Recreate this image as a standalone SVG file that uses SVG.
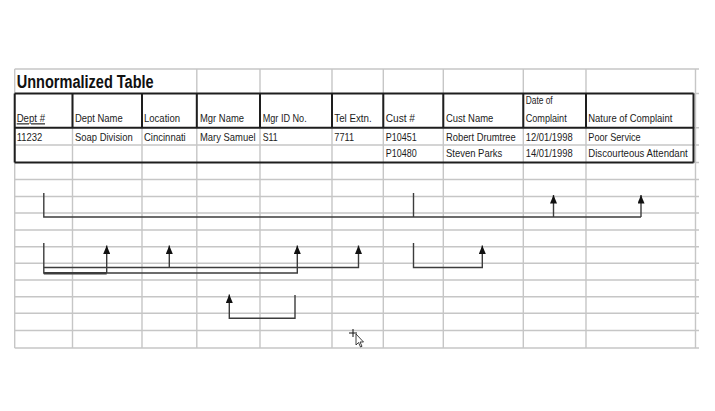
<svg xmlns="http://www.w3.org/2000/svg" width="715" height="411" viewBox="0 0 715 411">
<style>
  .grid { stroke: #c6c6c6; stroke-width: 1.4; fill: none; }
  .thick { stroke: #1e1e1e; stroke-width: 2; fill: none; }
  .t { font-family: "Liberation Sans", Arial, sans-serif; font-size: 11.5px; fill: #1c1c1c; }
  .title { font-family: "Liberation Sans", Arial, sans-serif; font-size: 18px; font-weight: bold; fill: #111; }
  .conn { stroke: #3c3c3c; stroke-width: 1.4; fill: none; }
  .arr { marker-end: url(#ah); }
</style>
<defs>
  <marker id="ah" markerUnits="userSpaceOnUse" markerWidth="9" markerHeight="7" refX="8.5" refY="3.5" orient="auto">
    <path d="M0,0 L8.5,3.5 L0,7 z" fill="#111"/>
  </marker>
</defs>
<rect width="715" height="411" fill="#ffffff"/>

<g id="grid">
  <path class="grid" d="M14.7,69 H699 M14.7,145 H699 M14.7,179.5 H699 M14.7,196.5 H699 M14.7,213 H699 M14.7,230 H699 M14.7,246.7 H699 M14.7,263.3 H699 M14.7,280 H699 M14.7,296.7 H699 M14.7,313.3 H699 M14.7,330.5 H699 M14.7,348 H699 M693,93.5 H699 M693,127.7 H699 M693,162.5 H699"/>
  <path class="grid" d="M14.7,69 V348 M72.5,93.5 V348 M142,93.5 V348 M196.8,69 V348 M260,69 V348 M332,69 V348 M383.3,69 V348 M443.3,69 V348 M523.3,69 V348 M586,69 V348 M695.5,69 V348"/>
</g>

<g id="table-borders">
  <path class="thick" d="M14.7,93.5 H693.5 M14.7,127.7 H693.5 M14.7,162.5 H693.5 M14.7,93.5 V162.5 M693.5,93.5 V162.5"/>
  <path class="thick" d="M72.5,93.5 V127.7 M142,93.5 V127.7 M196.8,93.5 V127.7 M260,93.5 V127.7 M332,93.5 V127.7 M383.3,93.5 V127.7 M443.3,93.5 V127.7 M523.3,93.5 V127.7 M586,93.5 V127.7"/>
</g>

<g id="title">
  <text class="title" x="16.7" y="88.3" textLength="137" lengthAdjust="spacingAndGlyphs">Unnormalized Table</text>
</g>

<g id="col-dept-no">
  <text class="t" x="16.7" y="122.3" textLength="28.3" lengthAdjust="spacingAndGlyphs" text-decoration="underline">Dept #</text>
  <text class="t" x="16.7" y="141.3" textLength="25.6" lengthAdjust="spacingAndGlyphs">11232</text>
</g>
<g id="col-dept-name">
  <text class="t" x="75" y="122.3" textLength="47.7" lengthAdjust="spacingAndGlyphs">Dept Name</text>
  <text class="t" x="75" y="141.3" textLength="57.7" lengthAdjust="spacingAndGlyphs">Soap Division</text>
</g>
<g id="col-location">
  <text class="t" x="144" y="122.3" textLength="36" lengthAdjust="spacingAndGlyphs">Location</text>
  <text class="t" x="144" y="141.3" textLength="41.7" lengthAdjust="spacingAndGlyphs">Cincinnati</text>
</g>
<g id="col-mgr-name">
  <text class="t" x="200" y="122.3" textLength="44" lengthAdjust="spacingAndGlyphs">Mgr Name</text>
  <text class="t" x="200" y="141.3" textLength="55.5" lengthAdjust="spacingAndGlyphs">Mary Samuel</text>
</g>
<g id="col-mgr-id">
  <text class="t" x="262.7" y="122.3" textLength="44" lengthAdjust="spacingAndGlyphs">Mgr ID No.</text>
  <text class="t" x="262.7" y="141.3" textLength="15" lengthAdjust="spacingAndGlyphs">S11</text>
</g>
<g id="col-tel">
  <text class="t" x="334.3" y="122.3" textLength="37.4" lengthAdjust="spacingAndGlyphs">Tel Extn.</text>
  <text class="t" x="334.3" y="141.3" textLength="19.7" lengthAdjust="spacingAndGlyphs">7711</text>
</g>
<g id="col-cust-no">
  <text class="t" x="385.7" y="122.3" textLength="29.3" lengthAdjust="spacingAndGlyphs">Cust #</text>
  <text class="t" x="385.7" y="141.3" textLength="31" lengthAdjust="spacingAndGlyphs">P10451</text>
  <text class="t" x="385.7" y="157.3" textLength="31" lengthAdjust="spacingAndGlyphs">P10480</text>
</g>
<g id="col-cust-name">
  <text class="t" x="446" y="122.3" textLength="47.3" lengthAdjust="spacingAndGlyphs">Cust Name</text>
  <text class="t" x="446" y="141.3" textLength="69.7" lengthAdjust="spacingAndGlyphs">Robert Drumtree</text>
  <text class="t" x="446" y="157.3" textLength="56.3" lengthAdjust="spacingAndGlyphs">Steven Parks</text>
</g>
<g id="col-date">
  <text class="t" x="525.7" y="104.3" textLength="27" lengthAdjust="spacingAndGlyphs">Date of</text>
  <text class="t" x="525.7" y="122.3" textLength="41" lengthAdjust="spacingAndGlyphs">Complaint</text>
  <text class="t" x="525.7" y="141.3" textLength="47" lengthAdjust="spacingAndGlyphs">12/01/1998</text>
  <text class="t" x="525.7" y="157.3" textLength="47" lengthAdjust="spacingAndGlyphs">14/01/1998</text>
</g>
<g id="col-nature">
  <text class="t" x="588.3" y="122.3" textLength="84" lengthAdjust="spacingAndGlyphs">Nature of Complaint</text>
  <text class="t" x="588.3" y="141.3" textLength="52.4" lengthAdjust="spacingAndGlyphs">Poor Service</text>
  <text class="t" x="588.3" y="157.3" textLength="99.4" lengthAdjust="spacingAndGlyphs">Discourteous Attendant</text>
</g>

<g id="connectors">
  <path class="conn" d="M43.8,193 V217 H641"/>
  <path class="conn" d="M413.5,193 V217"/>
  <path class="conn arr" d="M553.5,217 V195"/>
  <path class="conn arr" d="M641,217 V195"/>

  <path class="conn arr" d="M43.8,243 V273 H297.3 V245.5"/>
  <path class="conn arr" d="M43.8,267.5 H358.5 V245.5"/>
  <path class="conn arr" d="M106.7,273 V245.5"/>
  <path class="conn arr" d="M169.3,267.5 V245.5"/>
  <path class="conn" style="stroke-width:2.4" d="M43.8,273.3 H106.7"/>

  <path class="conn arr" d="M413.5,243 V267.5 H482.3 V245.5"/>

  <path class="conn arr" d="M295,295 V318.3 H229.3 V294.5"/>
</g>

<g id="cursor">
  <path d="M349,333 H357 M353,329 V337" stroke="#111" stroke-width="1"/>
  <path d="M356,334 V345 L358.5,342.5 L360.5,347 L362,346.3 L360,342 L363.5,342 Z" fill="#fff" stroke="#111" stroke-width="0.8"/>
</g>
</svg>
